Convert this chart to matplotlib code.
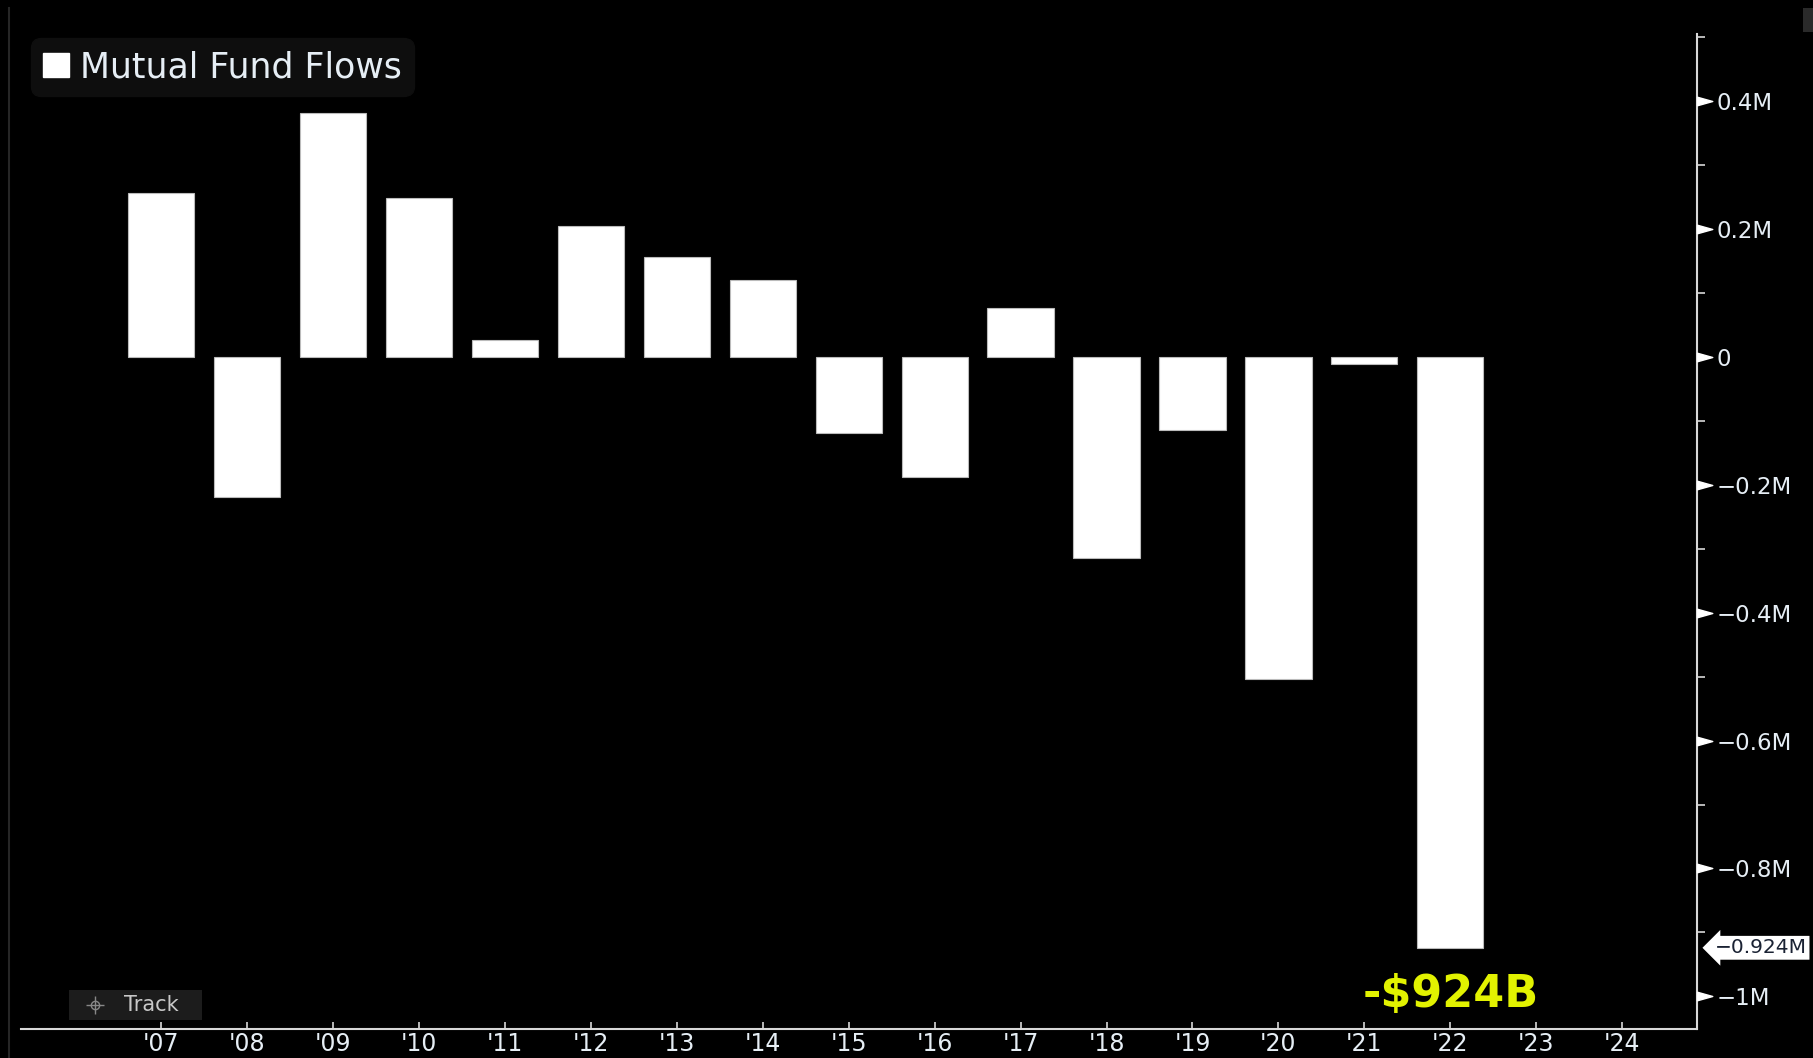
import matplotlib
matplotlib.use("Agg")
import matplotlib.pyplot as plt
from matplotlib.patches import Patch, FancyBboxPatch
from matplotlib.path import Path
import matplotlib.transforms as mtransforms

# mutual fund flows by year, shown in M on the axis
years = [2007, 2008, 2009, 2010, 2011, 2012, 2013, 2014, 2015,
         2016, 2017, 2018, 2019, 2020, 2021, 2022]
flows = [0.257, -0.219, 0.382, 0.248, 0.027, 0.204, 0.157, 0.121, -0.119,
         -0.188, 0.076, -0.315, -0.114, -0.503, -0.011, -0.924]
tick_years = list(range(2007, 2025))
tick_labels = ["'%02d" % (y % 100) for y in tick_years]
y_major = [0.4, 0.2, 0.0, -0.2, -0.4, -0.6, -0.8, -1.0]
y_labels = ["0.4M", "0.2M", "0", "\u22120.2M", "\u22120.4M", "\u22120.6M", "\u22120.8M", "\u22121M"]
y_minor = [0.5, 0.3, 0.1, -0.1, -0.3, -0.5, -0.7, -0.9]
last_value = -0.924

W, H = 1813, 1058
fig = plt.figure(figsize=(W / 100, H / 100), dpi=100, facecolor="black")
ax = fig.add_axes([21 / W, 1 - 1029 / H, (1697 - 21) / W, (1029 - 34) / H])
ax.set_facecolor("black")

ax.bar(years, flows, width=0.77, color="white", edgecolor="#bbbbbb", linewidth=0.8, zorder=3)

ax.set_xlim(2005.37, 2024.87)
ax.set_ylim(-1.051, 0.505)

for s in ["top", "left"]:
    ax.spines[s].set_visible(False)
ax.spines["right"].set_color("#d8d8d8")
ax.spines["bottom"].set_color("#d8d8d8")
ax.spines["right"].set_linewidth(1.5)
ax.spines["bottom"].set_linewidth(1.5)

# x axis
ax.set_xticks(tick_years)
ax.set_xticklabels(tick_labels, family=["Liberation Sans Narrow", "DejaVu Sans"])
ax.tick_params(axis="x", direction="in", length=5, width=1.2, color="#d8d8d8",
               labelcolor="#e6eef5", labelsize=17, pad=2)

# y axis on the right
ax.yaxis.tick_right()
ax.set_yticks(y_major)
ax.set_yticklabels(y_labels)
ax.set_yticks(y_minor, minor=True)
ax.tick_params(axis="y", which="major", length=0, pad=14, labelcolor="#e6eef5", labelsize=16.5)
ax.tick_params(axis="y", which="minor", direction="out", length=6, width=1.2, color="#d8d8d8")

# triangle markers for major y ticks
tri = Path([(0, -0.28), (1, 0), (0, 0.28), (0, -0.28)],
           [Path.MOVETO, Path.LINETO, Path.LINETO, Path.CLOSEPOLY])
trans = mtransforms.blended_transform_factory(ax.transAxes, ax.transData)
ax.plot([1] * len(y_major), y_major, linestyle="none", marker=tri, markersize=22,
        color="white", transform=trans, clip_on=False, zorder=5)

# last value tag
ax.annotate("\u22120.924M", xy=(1.0, last_value), xycoords=trans,
            xytext=(13, 0), textcoords="offset points", va="center", ha="left",
            fontsize=14.5, color="#1a2233", annotation_clip=False,
            bbox=dict(boxstyle="larrow,pad=0.12", fc="white", ec="none"))

# big label
ax.text(2022.0, -0.997, "-$924B", color="#e2f200", fontsize=32, fontweight="bold",
        family="DejaVu Sans", ha="center", va="center", zorder=6)

# legend
leg = ax.legend(handles=[Patch(facecolor="white", edgecolor="white")],
                labels=["Mutual Fund Flows"], loc="upper left",
                bbox_to_anchor=(31 / W, 1 - 38 / H), bbox_transform=fig.transFigure,
                borderaxespad=0, fontsize=25, labelcolor="#e6eef5",
                handlelength=0.75, handleheight=0.65, handletextpad=0.3,
                borderpad=0.35, fancybox=True, framealpha=1)
leg.get_frame().set_facecolor("#0e0e0e")
leg.get_frame().set_edgecolor("#0e0e0e")
leg.get_frame().set_boxstyle("round,pad=0,rounding_size=0.3")

# Track button
fig.patches.append(FancyBboxPatch((69 / W, 1 - 1020 / H), 133 / W, 30 / H,
                                  boxstyle="square,pad=0", transform=fig.transFigure,
                                  fc="#1c1c1c", ec="none"))
fig.text(124 / W, 1 - 1005 / H, "Track", color="#c8c8c8", fontsize=15, va="center", ha="left")
fig.lines.append(plt.Line2D([95 / W], [1 - 1005 / H], marker="o", markersize=6, mfc="none",
                            mec="#888888", transform=fig.transFigure))
fig.lines.append(plt.Line2D([95 / W], [1 - 1005 / H], marker="+", markersize=13,
                            mec="#888888", transform=fig.transFigure))

# left panel border and corner square
fig.lines.append(plt.Line2D([9 / W, 9 / W], [0, 1 - 8 / H], color="#262626", lw=1.5,
                            transform=fig.transFigure))
fig.patches.append(FancyBboxPatch((1803 / W, 1 - 32 / H), 10 / W, 24 / H,
                                  boxstyle="square,pad=0", transform=fig.transFigure,
                                  fc="#2a2a2a", ec="none"))

fig.savefig("out.png", dpi=100, facecolor="black")
